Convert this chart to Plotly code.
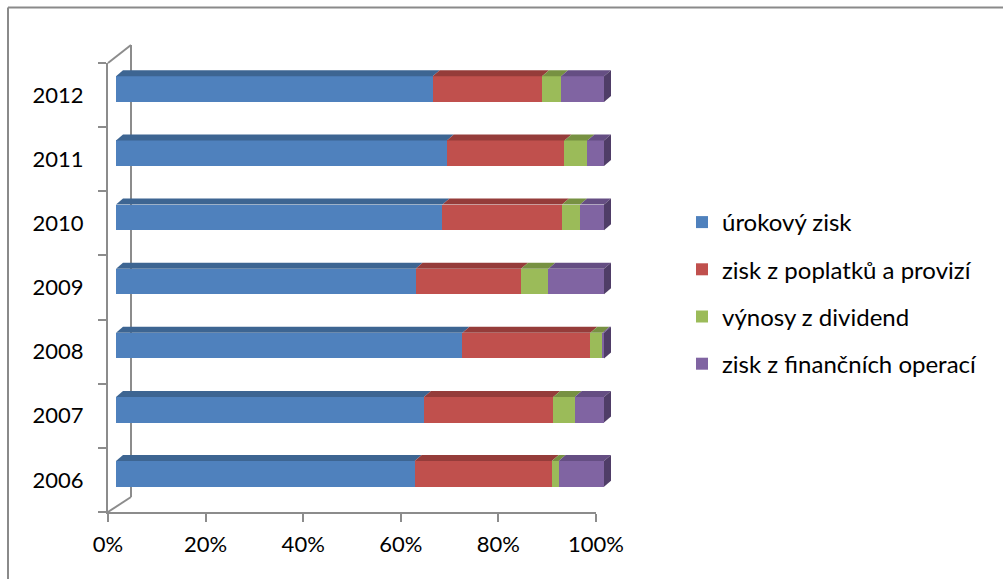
import plotly.graph_objects as go

W, H = 1003, 579

years = ["2006", "2007", "2008", "2009", "2010", "2011", "2012"]
series_names = ["úrokový zisk", "zisk z poplatků a provizí", "výnosy z dividend", "zisk z finančních operací"]
urokovy = [61.2, 63.1, 71.0, 61.4, 66.9, 67.8, 64.9]
poplatky = [28.1, 26.5, 26.2, 21.6, 24.5, 24.1, 22.4]
dividendy = [1.4, 4.4, 2.5, 5.6, 3.7, 4.7, 3.9]
financni = [9.3, 6.0, 0.3, 11.4, 4.9, 3.4, 8.8]
x_ticks = [0, 20, 40, 60, 80, 100]

front_colors = ["#4F81BD", "#C0504D", "#9BBB59", "#8064A2"]
top_colors = ["#3D6592", "#953C3A", "#779142", "#654E83"]
side_colors = ["#345479", "#7B3130", "#637A37", "#4F3D67"]

FONT = "Lato"
AXIS_COL = "#8C8C8C"

def px(x):
    return x / W

def py(y):
    return 1 - y / H

# floor / front frame
X0, X1 = 108, 596
Y_TOP, Y_BOT = 63, 512
# bar plane offset (3D effect)
BDX, BDY = 8, 6
# bar depth
DDX, DDY = 7, 6
# back wall offset
WDX, WDY = 23, 17
EXTRA = 4.0  # extra % room on bar axis so side faces are not clipped

series = [urokovy, poplatky, dividendy, financni]

fig = go.Figure()
# invisible trace to activate the front (floor) axes
fig.add_trace(go.Scatter(x=[0] * len(years), y=years, mode="none", showlegend=False,
                         hoverinfo="skip", xaxis="x", yaxis="y"))
for name, vals, col in zip(series_names, series, front_colors):
    fig.add_trace(go.Bar(
        y=years, x=vals, name=name, orientation="h",
        marker=dict(color=col, line=dict(width=0)),
        xaxis="x2", yaxis="y2", legendgroup=name,
    ))

BAR_W = 0.40
n = len(years)
px_per_pct = (X1 - X0) / 100.0
xs_per_px = 1 / px_per_pct
cat_per_px = n / (Y_BOT - Y_TOP)
ddx = DDX * xs_per_px
ddy = DDY * cat_per_px

shapes = []
for i, yr in enumerate(years):
    tot = sum(s[i] for s in series)
    cum = 0.0
    top = i + BAR_W / 2
    bot = i - BAR_W / 2
    for k, s in enumerate(series):
        v = s[i] / tot * 100
        a, b = cum, cum + v
        cum = b
        if v <= 0:
            continue
        path = f"M {a},{top} L {b},{top} L {b+ddx},{top+ddy} L {a+ddx},{top+ddy} Z"
        shapes.append(dict(type="path", path=path, xref="x2", yref="y2",
                           fillcolor=top_colors[k], line=dict(width=0), layer="above"))
    last = max(k for k, s in enumerate(series) if s[i] > 0)
    path = f"M 100,{bot} L 100,{top} L {100+ddx},{top+ddy} L {100+ddx},{bot+ddy} Z"
    shapes.append(dict(type="path", path=path, xref="x2", yref="y2",
                       fillcolor=side_colors[last], line=dict(width=0), layer="above"))

line = dict(color=AXIS_COL, width=2)
shapes += [
    dict(type="line", xref="paper", yref="paper", x0=px(X0), y0=py(Y_TOP), x1=px(X0 + WDX), y1=py(Y_TOP - WDY - 1), line=line, layer="below"),
    dict(type="line", xref="paper", yref="paper", x0=px(X0 + WDX), y0=py(Y_TOP - WDY - 1), x1=px(X0 + WDX), y1=py(Y_BOT - WDY + 2), line=line, layer="below"),
    dict(type="line", xref="paper", yref="paper", x0=px(X0), y0=py(Y_BOT), x1=px(X0 + WDX), y1=py(Y_BOT - WDY + 2), line=line, layer="below"),
    dict(type="line", xref="paper", yref="paper", x0=px(8), y0=py(7.5), x1=px(1010), y1=py(7.5), line=dict(color="#8A8A8A", width=2)),
    dict(type="line", xref="paper", yref="paper", x0=px(8), y0=py(7.5), x1=px(8), y1=py(600), line=dict(color="#8A8A8A", width=2)),
]

fig.update_layout(
    width=W, height=H,
    margin=dict(l=0, r=0, t=0, b=0, autoexpand=False),
    paper_bgcolor="white", plot_bgcolor="rgba(0,0,0,0)",
    barmode="stack", barnorm="percent", bargap=1 - BAR_W,
    font=dict(family=FONT, size=22, color="black"),
    shapes=shapes,
    xaxis=dict(domain=[px(X0), px(X1)], range=[0, 100], tickvals=x_ticks,
               ticktext=[f"{t}%" for t in x_ticks], showgrid=False, zeroline=False,
               showline=True, linecolor=AXIS_COL, linewidth=2, ticks="outside",
               ticklen=8, tickwidth=2, tickcolor=AXIS_COL, anchor="y",
               ticklabelstandoff=4, automargin=False),
    yaxis=dict(domain=[py(Y_BOT), py(Y_TOP)], type="category",
               categoryorder="array", categoryarray=years, range=[-0.5, n - 0.5],
               showgrid=False, zeroline=False, showline=True, linecolor=AXIS_COL,
               linewidth=2, ticks="outside", ticklen=8, tickwidth=2, tickcolor=AXIS_COL,
               tickson="boundaries", anchor="x", ticklabelstandoff=18, automargin=False),
    xaxis2=dict(domain=[px(X0 + BDX), px(X1 + BDX + EXTRA * px_per_pct)],
                range=[0, 100 + EXTRA], visible=False, anchor="y2"),
    yaxis2=dict(domain=[py(Y_BOT - BDY), py(Y_TOP - BDY)], type="category",
                categoryorder="array", categoryarray=years, range=[-0.5, n - 0.5],
                visible=False, anchor="x2"),
    legend=dict(x=px(682), y=py(200), xanchor="left", yanchor="top",
                traceorder="grouped", tracegroupgap=13,
                font=dict(family=FONT, size=24, color="black"),
                bgcolor="rgba(0,0,0,0)"),
)

fig.write_html("out.html")
